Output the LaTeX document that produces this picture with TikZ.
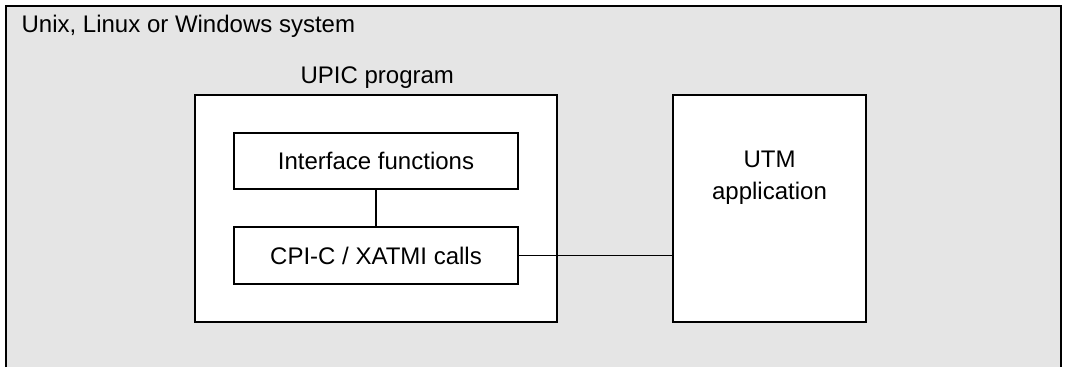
\documentclass[tikz,border=0pt]{standalone}
\usepackage{fontspec}
\setmainfont{Liberation Sans}
\definecolor{bggray}{RGB}{229,229,229}
\begin{document}
\begin{tikzpicture}[x=1pt,y=-1pt,
  line width=1.3pt,
  every node/.style={font=\fontsize{24}{28}\selectfont},
  box/.style={draw=black, fill=white, inner sep=0pt, outer sep=0pt, rectangle},
  lbl/.style={inner sep=0pt, anchor=base},
  link/.style={draw=black, line width=1.3pt}]
\useasboundingbox (0,0) rectangle (1065,367);
\fill[white] (0,0) rectangle (1065,367);
\fill[bggray] (6,6) rectangle (1061,367);
\draw (6,367) -- (6,6) -- (1061,6) -- (1061,367);
\node[lbl, anchor=base west] (sys) at (21,32) {Unix, Linux or Windows system};
\node[lbl, anchor=base west] (upiclbl) at (300,83) {UPIC program};
\node[box, minimum width=362pt, minimum height=227pt] (upic) at (376,208.5) {};
\node[box, minimum width=284pt, minimum height=56pt] (iface) at (376,161) {Interface functions};
\node[box, minimum width=284pt, minimum height=57pt] (cpi) at (376,255.5) {CPI-C / XATMI calls};
\node[box, minimum width=193pt, minimum height=227pt] (utm) at (769.5,208.5) {};
\node[lbl, align=center, anchor=north] (utmlbl) at (769.5,150) {UTM\\[4pt]application};
\draw[link] (iface.south) -- (cpi.north);
\draw[link] (cpi.east) -- (utm.west |- cpi.east);
\end{tikzpicture}
\end{document}
